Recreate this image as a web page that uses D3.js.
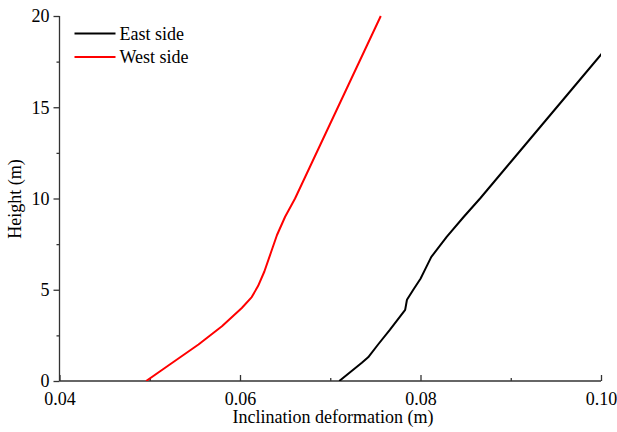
<!DOCTYPE html>
<html>
<head>
<meta charset="utf-8">
<script src="https://cdn.jsdelivr.net/npm/d3@7"></script>
<style>
    body { margin: 0; background: #fff; }
    text { font-family: "Liberation Serif", "Times New Roman", serif; }
</style>
</head>
<body>
<div id="chart"></div>
<script>
// heights (m) and inclination deformation (m)
const westHeight = [0, 1, 2, 3, 4, 4.6, 5.2, 6, 7, 8, 9, 10, 12, 14, 16, 18, 20];
const westDeform = [0.0496, 0.0525, 0.0554, 0.0580, 0.0602, 0.0613, 0.0620, 0.0627, 0.0634, 0.0641, 0.0650, 0.0661, 0.0680, 0.0699, 0.0718, 0.0737, 0.0756];
const eastHeight = [0, 1, 1.3, 2, 2.8, 3.9, 4.45, 5, 5.6, 6.1, 6.8, 7.9, 9, 10, 12, 14, 16, 18];
const eastDeform = [0.0710, 0.0735, 0.0742, 0.0753, 0.0766, 0.0783, 0.0785, 0.0792, 0.0800, 0.0805, 0.0812, 0.0829, 0.0848, 0.0866, 0.0900, 0.0934, 0.0968, 0.1002];
const xTicks = [0.04, 0.06, 0.08, 0.10];
const yTicks = [0, 5, 10, 15, 20];
const xMinor = [0.05, 0.07, 0.09];
const yMinor = [2.5, 7.5, 12.5, 17.5];

const series = [
    { name: "East side", color: "#000000", h: eastHeight, d: eastDeform },
    { name: "West side", color: "#ff0000", h: westHeight, d: westDeform }
];

const W = 617, H = 432;
const margin = { top: 16, right: 16, bottom: 51, left: 59.5 };
const width = W - margin.left - margin.right;
const height = H - margin.top - margin.bottom;
const fontSize = 18;

const svg = d3.select("#chart").append("svg")
    .attr("width", W)
    .attr("height", H);

const g = svg.append("g")
    .attr("transform", `translate(${margin.left}, ${margin.top})`);

const x = d3.scaleLinear().domain([0.04, 0.10]).range([0, width]);
const y = d3.scaleLinear().domain([0, 20]).range([height, 0]);

g.append("clipPath").attr("id", "clip")
    .append("rect").attr("width", width).attr("height", height + 2).attr("y", -2);

const xAxis = g.append("g")
    .attr("transform", `translate(0, ${height})`)
    .call(d3.axisBottom(x).tickValues(xTicks).tickFormat(d3.format(".2f")).tickSize(-6).tickPadding(11));
g.append("g")
    .attr("transform", `translate(0, ${height})`)
    .call(d3.axisBottom(x).tickValues(xMinor).tickFormat("").tickSize(-3))
    .call(a => a.select(".domain").remove());

const yAxis = g.append("g")
    .call(d3.axisLeft(y).tickValues(yTicks).tickSize(6).tickPadding(4));
g.append("g")
    .call(d3.axisLeft(y).tickValues(yMinor).tickFormat("").tickSize(3))
    .call(a => a.select(".domain").remove());

g.selectAll(".domain, .tick line").attr("stroke", "#333").attr("stroke-width", 1.3);
g.selectAll(".tick text")
    .attr("font-size", fontSize)
    .attr("fill", "#000");
xAxis.selectAll(".domain").attr("d", `M0,0H${width}`);
yAxis.selectAll(".domain").attr("d", `M0,${height}V0`);

// lines
const line = d3.line()
    .x(p => x(p[0]))
    .y(p => y(p[1]));

g.append("g").attr("clip-path", "url(#clip)")
    .selectAll("path")
    .data(series)
    .join("path")
    .attr("fill", "none")
    .attr("stroke", s => s.color)
    .attr("stroke-width", 2)
    .attr("stroke-linejoin", "round")
    .attr("d", s => line(s.d.map((v, i) => [v, s.h[i]])));

// legend
const legend = g.append("g").attr("transform", "translate(15, 17.5)");
series.forEach((s, i) => {
    const row = legend.append("g").attr("transform", `translate(0, ${i * 23.5})`);
    row.append("line")
        .attr("x1", 0).attr("x2", 41)
        .attr("stroke", s.color).attr("stroke-width", 2);
    row.append("text")
        .attr("x", 45).attr("y", 6)
        .attr("font-size", fontSize)
        .text(s.name);
});

// axis titles
svg.append("text")
    .attr("x", 333)
    .attr("y", 423)
    .attr("text-anchor", "middle")
    .attr("font-size", fontSize)
    .text("Inclination deformation (m)");

svg.append("text")
    .attr("transform", `translate(21, 199) rotate(-90)`)
    .attr("text-anchor", "middle")
    .attr("font-size", fontSize)
    .text("Height (m)");
</script>
</body>
</html>
